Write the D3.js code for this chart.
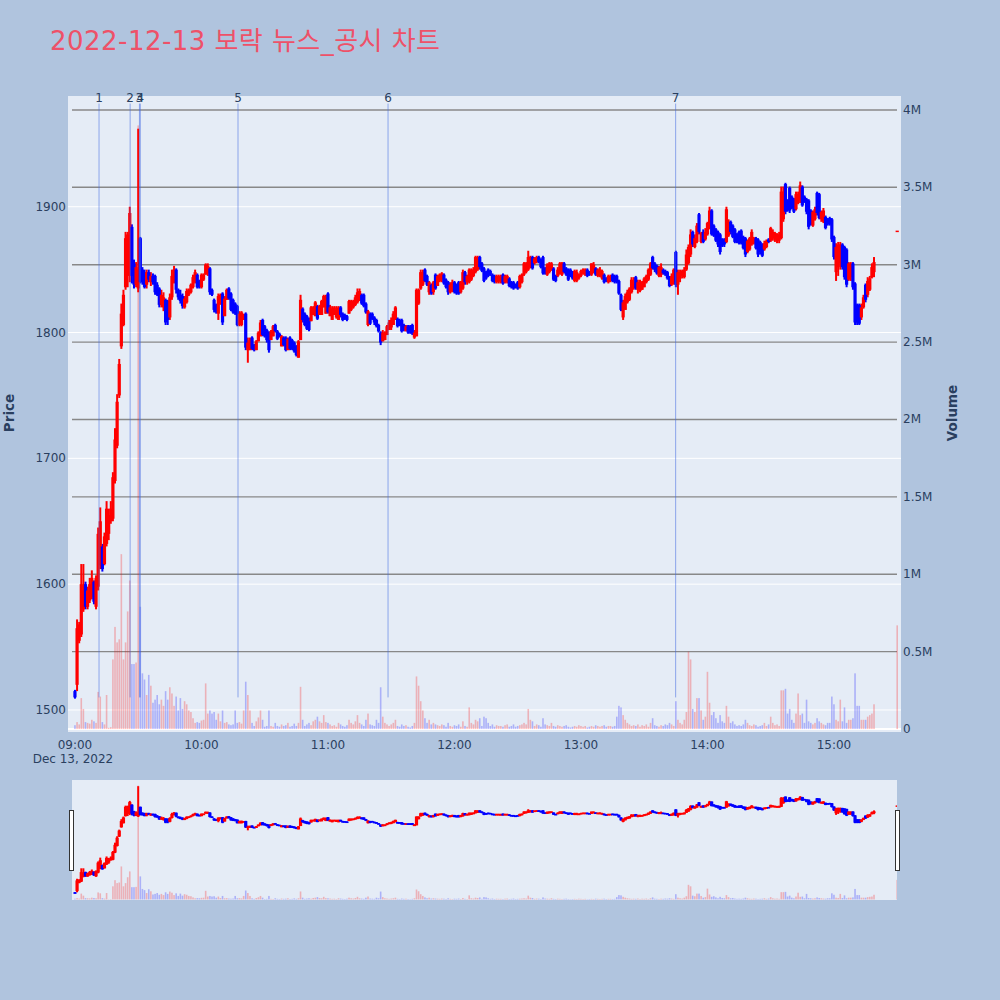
<!DOCTYPE html>
<html><head><meta charset="utf-8">
<script src="https://cdn.jsdelivr.net/npm/d3@7"></script>
<style>
body{margin:0;background:#B0C4DE;}
svg{display:block;font-family:"DejaVu Sans","Noto Sans CJK KR",sans-serif;}
</style>
</head><body><svg id="chart" width="1000" height="1000"></svg>
<script>
const chartTitle = "2022-12-13 보락 뉴스_공시 차트";
const sessionDate = "2022-12-13";
const firstMinute = "09:00";
// one [open, high, low, close] row per minute from 09:00
const ohlcRows = [
[1515,1516,1509,1510],[1520,1572,1515,1565],[1555,1570,1553,1568],[1560,1616,1558,1600],[1580,1616,1578,1595],
[1600,1602,1580,1582],[1582,1598,1580,1595],[1587,1605,1585,1600],[1590,1611,1588,1605],[1602,1603,1584,1586],
[1582,1607,1580,1605],[1598,1645,1595,1640],[1615,1661,1612,1650],[1630,1632,1610,1612],[1616,1641,1615,1638],
[1632,1666,1630,1660],[1640,1660,1635,1655],[1650,1666,1648,1660],[1652,1689,1650,1685],[1682,1724,1680,1715],
[1710,1751,1708,1745],[1750,1779,1748,1775],[1789,1823,1787,1815],[1806,1834,1805,1830],[1836,1880,1834,1875],
[1845,1880,1836,1878],[1850,1900,1840,1895],[1884,1886,1839,1845],[1855,1858,1835,1838],[1838,1856,1836,1852],
[1835,1962,1832,1850],[1875,1876,1839,1840],[1850,1852,1838,1840],[1848,1850,1835,1836],[1838,1850,1835,1848],
[1848,1850,1840,1842],[1840,1848,1837,1845],[1845,1847,1838,1840],[1845,1846,1830,1832],[1838,1840,1829,1830],
[1835,1836,1820,1822],[1822,1834,1820,1830],[1820,1832,1817,1828],[1826,1827,1806,1808],[1825,1826,1806,1810],
[1812,1831,1810,1828],[1828,1850,1826,1845],[1840,1853,1839,1850],[1850,1851,1831,1834],[1834,1835,1826,1828],
[1830,1834,1823,1825],[1829,1831,1819,1821],[1820,1829,1819,1827],[1824,1835,1823,1833],[1830,1835,1829,1834],
[1832,1839,1831,1838],[1836,1846,1835,1844],[1840,1850,1839,1848],[1846,1847,1835,1836],[1841,1842,1835,1836],
[1836,1847,1835,1846],[1842,1847,1841,1846],[1846,1855,1846,1854],[1847,1855,1845,1853],[1851,1852,1830,1832],
[1834,1835,1829,1830],[1826,1827,1816,1818],[1822,1823,1815,1816],[1815,1831,1810,1829],[1823,1831,1822,1830],
[1831,1832,1806,1808],[1813,1829,1813,1827],[1826,1835,1826,1834],[1835,1836,1826,1827],[1831,1832,1817,1818],
[1826,1827,1815,1816],[1823,1824,1814,1815],[1821,1822,1805,1806],[1806,1817,1805,1815],[1806,1817,1805,1816],
[1810,1815,1810,1814],[1815,1816,1786,1788],[1786,1796,1776,1792],[1786,1796,1786,1794],[1796,1797,1786,1787],
[1790,1791,1785,1786],[1786,1794,1786,1793],[1793,1801,1793,1800],[1797,1810,1797,1808],[1810,1811,1797,1798],
[1805,1806,1796,1797],[1802,1803,1792,1794],[1800,1801,1784,1786],[1794,1802,1794,1801],[1797,1806,1797,1805],
[1806,1807,1800,1801],[1801,1802,1794,1795],[1799,1800,1796,1797],[1789,1798,1789,1797],[1796,1797,1789,1790],
[1796,1797,1785,1786],[1786,1796,1786,1795],[1796,1797,1786,1787],[1794,1795,1786,1787],[1792,1793,1784,1785],
[1789,1790,1781,1782],[1780,1794,1780,1793],[1794,1830,1794,1826],[1819,1820,1808,1810],[1815,1816,1805,1806],
[1813,1814,1802,1803],[1811,1812,1801,1802],[1809,1821,1809,1820],[1814,1821,1814,1820],[1813,1825,1813,1824],
[1821,1822,1810,1811],[1814,1822,1814,1821],[1814,1826,1814,1825],[1820,1830,1820,1829],[1815,1830,1815,1828],
[1831,1832,1815,1816],[1813,1822,1813,1820],[1810,1821,1810,1819],[1814,1821,1814,1820],[1812,1821,1811,1818],
[1810,1821,1810,1820],[1820,1821,1812,1814],[1815,1816,1809,1810],[1814,1815,1810,1811],[1813,1814,1809,1810],
[1815,1826,1815,1825],[1818,1826,1817,1825],[1820,1826,1819,1825],[1822,1830,1821,1828],[1824,1835,1823,1832],
[1826,1835,1825,1833],[1830,1831,1822,1823],[1830,1831,1820,1821],[1823,1824,1815,1816],[1806,1818,1805,1817],
[1815,1816,1806,1807],[1815,1816,1810,1811],[1812,1813,1806,1808],[1810,1811,1804,1805],[1806,1807,1800,1801],
[1800,1801,1790,1792],[1793,1802,1793,1800],[1794,1801,1794,1800],[1798,1806,1798,1805],[1802,1810,1802,1808],
[1804,1812,1802,1810],[1806,1817,1806,1815],[1810,1821,1810,1820],[1811,1812,1804,1805],[1810,1811,1805,1806],
[1810,1811,1800,1801],[1806,1807,1801,1802],[1801,1806,1801,1805],[1805,1806,1799,1800],[1805,1806,1799,1800],
[1806,1807,1798,1799],[1796,1802,1795,1800],[1797,1835,1797,1834],[1823,1835,1822,1834],[1835,1850,1834,1848],
[1838,1850,1837,1848],[1850,1851,1840,1841],[1845,1846,1837,1838],[1832,1841,1830,1840],[1838,1839,1830,1831],
[1832,1841,1830,1840],[1846,1847,1834,1835],[1837,1846,1837,1845],[1841,1847,1840,1846],[1842,1848,1840,1847],
[1846,1847,1838,1839],[1842,1843,1835,1836],[1840,1841,1830,1832],[1832,1840,1831,1838],[1833,1842,1832,1840],
[1840,1841,1831,1832],[1838,1839,1830,1831],[1840,1841,1830,1831],[1832,1841,1831,1840],[1835,1850,1834,1848],
[1848,1849,1838,1840],[1840,1846,1838,1845],[1840,1851,1839,1850],[1842,1851,1841,1850],[1845,1852,1844,1850],
[1848,1861,1847,1860],[1850,1861,1849,1858],[1860,1861,1850,1852],[1855,1856,1848,1849],[1851,1852,1840,1841],
[1848,1849,1842,1843],[1850,1851,1844,1845],[1849,1850,1845,1846],[1846,1847,1840,1841],[1845,1846,1839,1840],
[1840,1846,1839,1845],[1841,1846,1839,1845],[1840,1846,1839,1844],[1846,1847,1838,1839],[1840,1846,1839,1845],
[1840,1846,1839,1845],[1843,1844,1836,1837],[1840,1841,1835,1836],[1840,1841,1834,1835],[1838,1839,1835,1836],
[1840,1841,1834,1835],[1836,1846,1835,1845],[1840,1847,1839,1846],[1846,1856,1845,1855],[1848,1856,1847,1855],
[1850,1865,1849,1860],[1852,1861,1851,1860],[1860,1861,1850,1851],[1855,1860,1854,1859],[1856,1861,1855,1860],
[1860,1861,1855,1856],[1858,1859,1851,1852],[1860,1861,1846,1847],[1851,1852,1846,1847],[1846,1855,1845,1854],
[1848,1856,1847,1855],[1850,1856,1849,1855],[1851,1852,1841,1842],[1845,1846,1840,1841],[1845,1852,1844,1850],
[1847,1856,1846,1855],[1846,1856,1845,1855],[1855,1856,1847,1848],[1851,1852,1845,1846],[1850,1851,1841,1842],
[1850,1851,1844,1845],[1848,1849,1842,1843],[1841,1850,1840,1849],[1841,1850,1840,1848],[1843,1847,1842,1846],
[1845,1850,1844,1849],[1847,1851,1846,1850],[1846,1851,1845,1850],[1850,1851,1844,1845],[1848,1849,1845,1846],
[1846,1855,1845,1855],[1848,1856,1847,1854],[1851,1852,1845,1846],[1845,1851,1844,1850],[1845,1852,1844,1850],
[1843,1850,1842,1849],[1846,1847,1839,1840],[1843,1844,1840,1841],[1840,1846,1839,1845],[1841,1846,1840,1845],
[1846,1847,1840,1841],[1845,1846,1839,1840],[1845,1846,1839,1840],[1841,1842,1830,1831],[1830,1831,1817,1818],
[1812,1826,1810,1824],[1818,1831,1818,1829],[1824,1834,1823,1832],[1826,1836,1825,1835],[1832,1844,1831,1842],
[1836,1844,1834,1840],[1844,1845,1834,1835],[1834,1842,1831,1840],[1833,1842,1832,1840],[1834,1841,1834,1840],
[1836,1844,1836,1843],[1840,1846,1839,1845],[1842,1851,1841,1850],[1846,1856,1845,1855],[1860,1861,1850,1851],
[1855,1856,1848,1850],[1853,1854,1846,1847],[1845,1853,1844,1852],[1846,1855,1844,1852],[1850,1851,1846,1847],
[1849,1850,1845,1846],[1848,1849,1842,1843],[1844,1845,1836,1837],[1838,1847,1837,1845],[1840,1851,1838,1850],
[1864,1865,1836,1838],[1838,1850,1830,1848],[1843,1850,1840,1848],[1845,1850,1843,1849],[1844,1852,1843,1850],
[1850,1866,1849,1862],[1855,1870,1854,1868],[1862,1882,1860,1878],[1880,1881,1868,1870],[1868,1878,1867,1875],
[1872,1887,1871,1885],[1894,1895,1878,1880],[1872,1880,1871,1879],[1880,1882,1871,1872],[1874,1883,1873,1880],
[1878,1888,1877,1887],[1883,1900,1882,1897],[1897,1898,1877,1878],[1885,1886,1876,1877],[1882,1883,1872,1873],
[1880,1881,1868,1870],[1878,1879,1862,1864],[1874,1875,1868,1869],[1874,1875,1868,1870],[1872,1900,1871,1898],
[1877,1890,1876,1888],[1888,1889,1878,1880],[1885,1886,1875,1876],[1882,1883,1871,1872],[1878,1879,1871,1872],
[1880,1881,1870,1871],[1881,1882,1870,1871],[1876,1877,1866,1867],[1875,1876,1860,1862],[1864,1874,1863,1873],
[1866,1876,1865,1875],[1870,1882,1869,1880],[1871,1876,1870,1875],[1875,1876,1866,1867],[1874,1875,1860,1862],
[1872,1873,1862,1864],[1870,1871,1860,1861],[1866,1873,1865,1871],[1868,1874,1867,1873],[1874,1875,1871,1872],
[1873,1884,1872,1883],[1875,1882,1873,1880],[1874,1880,1872,1879],[1873,1879,1871,1878],[1873,1880,1871,1878],
[1875,1916,1874,1912],[1890,1916,1888,1912],[1918,1919,1894,1896],[1905,1906,1896,1897],[1915,1916,1895,1897],
[1908,1909,1898,1899],[1906,1907,1895,1896],[1898,1912,1897,1910],[1903,1912,1902,1910],[1905,1920,1903,1917],
[1916,1917,1900,1901],[1908,1909,1903,1904],[1906,1907,1894,1896],[1905,1906,1882,1884],[1897,1898,1885,1886],
[1885,1897,1884,1896],[1890,1900,1889,1898],[1911,1912,1893,1895],[1910,1911,1890,1891],[1890,1897,1888,1896],
[1888,1899,1887,1897],[1892,1893,1882,1883],[1890,1891,1885,1886],[1891,1892,1885,1886],[1890,1891,1872,1874],
[1876,1877,1858,1860],[1848,1871,1841,1868],[1852,1872,1845,1870],[1855,1872,1850,1870],[1870,1871,1850,1852],
[1868,1869,1842,1844],[1866,1867,1836,1838],[1842,1856,1841,1855],[1844,1856,1841,1854],[1855,1856,1834,1836],
[1839,1840,1806,1808],[1822,1823,1806,1808],[1822,1823,1806,1807],[1812,1823,1810,1820],[1820,1830,1819,1828],
[1838,1839,1824,1826],[1830,1844,1828,1841],[1834,1845,1833,1843],[1844,1855,1843,1852],[1848,1860,1844,1856]
];
// volume per minute, thousands of shares
const volumeK = [
25,45,30,200,130,45,40,35,60,50, 40,240,210,45,30,220,8,12,450,660,
560,580,1130,450,560,760,960,420,420,430, 3900,790,360,320,220,350,280,170,190,220,
160,190,150,245,190,270,230,150,210,120, 200,130,180,160,120,110,70,40,45,40,
55,60,295,100,120,100,110,60,100,50, 120,40,45,30,25,30,120,40,45,35,
120,306,220,120,40,20,50,75,120,60, 15,20,120,20,15,40,20,15,30,20,
25,40,15,20,35,20,40,273,60,20, 30,40,25,50,60,80,50,40,90,45,
40,30,20,25,15,40,30,20,15,25, 60,40,30,50,90,40,30,20,60,100,
30,25,20,60,40,270,80,40,30,20, 30,40,60,20,15,30,20,25,15,10,
20,40,340,280,180,120,70,40,60,30, 40,30,25,20,30,25,15,40,20,15,
25,20,30,15,50,20,15,140,40,30, 60,50,70,20,80,70,40,20,30,15,
25,20,20,15,25,30,15,20,30,15, 20,25,30,40,30,130,60,50,20,30,
25,15,70,30,25,20,40,20,15,25, 20,15,20,25,15,10,15,20,15,25,
20,15,20,10,15,20,15,25,20,15, 20,25,15,20,20,15,20,80,150,140,
90,60,40,30,20,25,20,30,15,25, 20,30,15,40,70,25,20,15,25,20,
30,25,40,30,20,180,60,40,30,60, 110,500,450,130,110,200,200,120,60,80,
370,170,90,110,70,40,90,50,40,150, 80,40,50,30,20,25,20,30,60,40,
25,20,30,25,15,20,25,40,20,30, 80,40,25,30,20,250,250,260,100,130,
60,40,100,230,90,100,40,190,50,40, 30,40,70,50,40,30,25,40,40,210,
160,60,50,190,50,140,40,60,60,70, 360,150,150,60,60,60,80,90,100,160
];
const closingTime = "15:30";
const closingOHLC = [1881,1881,1881,1881];
const closingVolumeK = 670;
const eventTimes = ["09:11:25","09:26:10","09:30:35","09:31:00","10:17:20","11:28:30","13:44:55"];
const eventLabels = ["1","2","3","4","5","6","7"];
const priceTicks = [1500,1600,1700,1800,1900];
const volumeTicks = [0,500000,1000000,1500000,2000000,2500000,3000000,3500000,4000000];
const volumeTickLabels = ["0","0.5M","1M","1.5M","2M","2.5M","3M","3.5M","4M"];
const timeTicks = ["09:00","10:00","11:00","12:00","13:00","14:00","15:00"];
const dateLabel = "Dec 13, 2022";

const parseT = d3.timeParse("%Y-%m-%d %H:%M:%S");
const T = s => parseT(sessionDate + " " + (s.length === 5 ? s + ":00" : s));
const t0 = T(firstMinute);
const rows = ohlcRows.map((r, i) => ({t: d3.timeMinute.offset(t0, i), o: r[0], h: r[1], l: r[2], c: r[3], v: volumeK[i] * 1000}));
rows.push({t: T(closingTime), o: closingOHLC[0], h: closingOHLC[1], l: closingOHLC[2], c: closingOHLC[3], v: closingVolumeK * 1000});

const svg = d3.select("#chart");
const P = {l: 68, r: 901, t: 96, b: 732};
const S = {l: 72, r: 897, t: 780, b: 900};
const x = d3.scaleTime().domain([T("08:56:42"), T("15:31:48")]).range([P.l, P.r]);
const yP = d3.scaleLinear().domain([1482.5, 1988]).range([P.b, P.t]);
const yV = d3.scaleLinear().domain([-19000, 4090000]).range([P.b, P.t]);
const sP = yP.copy().range([S.b, S.t]);
const sV = yV.copy().range([S.b, S.t]);
const UP = "#ff0000", DN = "#0000ff";
const upv = "rgba(255,0,0,0.25)", dnv = "rgba(0,0,255,0.25)";
const isUp = d => d.c >= d.o;

svg.append("rect").attr("width", 1000).attr("height", 1000).attr("fill", "#B0C4DE");
svg.append("text").attr("x", 50).attr("y", 50).attr("font-size", 26).attr("fill", "#EE5168")
  .attr("textLength", 390).attr("lengthAdjust", "spacing").text(chartTitle);

// main plot
svg.append("rect").attr("x", P.l).attr("y", P.t).attr("width", P.r - P.l).attr("height", P.b - P.t).attr("fill", "#E5ECF6");
const defs = svg.append("defs");
defs.append("clipPath").attr("id", "cm").append("rect").attr("x", P.l).attr("y", P.t).attr("width", P.r - P.l).attr("height", P.b - P.t);
defs.append("clipPath").attr("id", "cs").append("rect").attr("x", S.l).attr("y", S.t).attr("width", S.r - S.l).attr("height", S.b - S.t);

const g = svg.append("g").attr("clip-path", "url(#cm)");
g.selectAll(".pg").data(priceTicks).join("line").attr("x1", P.l).attr("x2", P.r)
  .attr("y1", d => yP(d)).attr("y2", d => yP(d)).attr("stroke", "#fff").attr("stroke-width", 1);
g.selectAll(".vg").data(volumeTicks.filter(v => v > 0)).join("line").attr("x1", S.l).attr("x2", S.r)
  .attr("y1", d => yV(d)).attr("y2", d => yV(d)).attr("stroke", "#888").attr("stroke-width", 1.4);
g.append("line").attr("x1", P.l).attr("x2", P.r).attr("y1", yV(0)).attr("y2", yV(0)).attr("stroke", "#fff").attr("stroke-width", 2);

function drawSeries(layer, ys, yv) {
  layer.selectAll(".vb").data(rows).join("rect")
    .attr("x", d => x(d.t) - 0.8).attr("width", 1.6)
    .attr("y", d => yv(d.v)).attr("height", d => yv(0) - yv(d.v))
    .attr("fill", d => isUp(d) ? upv : dnv);
  layer.selectAll(".wk").data(rows).join("line")
    .attr("x1", d => x(d.t)).attr("x2", d => x(d.t))
    .attr("y1", d => ys(d.h)).attr("y2", d => ys(d.l))
    .attr("stroke", d => isUp(d) ? UP : DN).attr("stroke-width", 2);
  layer.selectAll(".bd").data(rows).join("rect")
    .attr("x", d => x(d.t) - 1.6).attr("width", 3.2)
    .attr("y", d => ys(Math.max(d.o, d.c)))
    .attr("height", d => Math.max(1.5, Math.abs(ys(d.o) - ys(d.c))))
    .attr("fill", d => isUp(d) ? UP : DN);
}
drawSeries(g.append("g"), yP, yV);

// event markers
const ev = eventTimes.map((s, i) => ({t: T(s), label: eventLabels[i]}));
g.selectAll(".ev").data(ev).join("line")
  .attr("x1", d => x(d.t)).attr("x2", d => x(d.t))
  .attr("y1", yP(1982)).attr("y2", yP(1510))
  .attr("stroke", "rgba(65,105,225,0.55)").attr("stroke-width", 1);
svg.selectAll(".evl").data(ev).join("text")
  .attr("x", d => x(d.t)).attr("y", 102).attr("text-anchor", "middle")
  .attr("font-size", 12).attr("fill", "#2a3f5f").text(d => d.label);

// axes labels
const tickFill = "#2a3f5f";
svg.selectAll(".pl").data(priceTicks).join("text").attr("x", 66).attr("y", d => yP(d) + 4)
  .attr("text-anchor", "end").attr("font-size", 12).attr("fill", tickFill).text(d => d);
svg.selectAll(".vl").data(volumeTicks).join("text").attr("x", 903).attr("y", d => yV(d) + 4)
  .attr("font-size", 12).attr("fill", tickFill).text((d, i) => volumeTickLabels[i]);
svg.selectAll(".tl").data(timeTicks).join("text").attr("x", d => x(T(d))).attr("y", 749)
  .attr("text-anchor", "middle").attr("font-size", 12).attr("fill", tickFill).text(d => d);
svg.append("text").attr("x", x(T(timeTicks[0])) - 2).attr("y", 763).attr("text-anchor", "middle")
  .attr("font-size", 12).attr("fill", tickFill).text(dateLabel);
svg.append("text").attr("transform", "translate(14,413) rotate(-90)").attr("text-anchor", "middle")
  .attr("font-size", 13.5).attr("font-weight", "bold").attr("fill", tickFill).text("Price");
svg.append("text").attr("transform", "translate(957,413) rotate(-90)").attr("text-anchor", "middle")
  .attr("font-size", 13.5).attr("font-weight", "bold").attr("fill", tickFill).text("Volume");

// range slider
svg.append("rect").attr("x", S.l).attr("y", S.t).attr("width", S.r - S.l).attr("height", S.b - S.t).attr("fill", "#E5ECF6");
drawSeries(svg.append("g").attr("clip-path", "url(#cs)"), sP, sV);
[S.l - 2.5, S.r - 1.5].forEach(hx => {
  svg.append("rect").attr("x", hx).attr("y", 810.5).attr("width", 4).attr("height", 60)
    .attr("fill", "#fff").attr("stroke", "#333").attr("stroke-width", 1);
});
</script></body></html>
